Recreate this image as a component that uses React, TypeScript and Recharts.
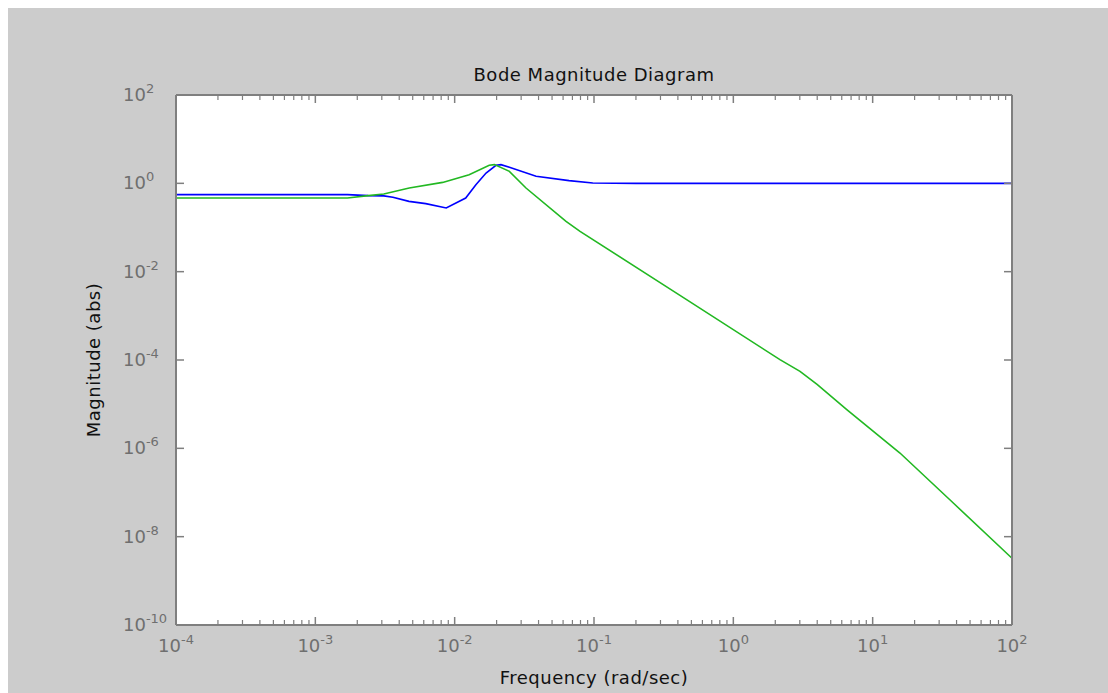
import React from 'react';
import { LineChart, Line, XAxis, YAxis, CartesianGrid } from 'recharts';

// frequency (rad/sec) and magnitude (abs)
const blueFreq = [1e-4, 1.7e-3, 2.4e-3, 3.1e-3, 3.6e-3, 4.7e-3, 6.2e-3, 8.7e-3, 0.012, 0.0142, 0.0168, 0.0198, 0.0215, 0.0247, 0.0384, 0.0662, 0.098, 0.2, 100];
const blueMag = [0.555, 0.555, 0.527, 0.521, 0.482, 0.391, 0.347, 0.276, 0.465, 0.933, 1.71, 2.56, 2.65, 2.3, 1.44, 1.15, 1.02, 1.0, 1.0];

const greenFreq = [1e-4, 1.7e-3, 2.4e-3, 3.1e-3, 4.72e-3, 8.2e-3, 0.0127, 0.0177, 0.0193, 0.0247, 0.0325, 0.063, 0.0794, 0.414, 2.16, 3.01, 3.99, 6.52, 15.7, 37.9, 100];
const greenMag = [0.465, 0.465, 0.527, 0.573, 0.783, 1.05, 1.57, 2.56, 2.65, 1.87, 0.783, 0.138, 0.0818, 2.91e-3, 1.02e-4, 5.55e-5, 2.81e-5, 7.52e-6, 7.83e-7, 5.78e-8, 3.24e-9];

const xMajorTicks = [1e-4, 1e-3, 1e-2, 1e-1, 1, 10, 100];
const yMajorTicks = [1e-10, 1e-8, 1e-6, 1e-4, 1e-2, 1, 100];

const blueData = blueFreq.map((f, i) => ({ f, m: blueMag[i] }));
const greenData = greenFreq.map((f, i) => ({ f, m: greenMag[i] }));

// log axis: majors plus 2..9 minors in every decade
const xTicks: number[] = [];
xMajorTicks.forEach((t, i) => {
  xTicks.push(t);
  if (i < xMajorTicks.length - 1) {
    for (let k = 2; k <= 9; k++) xTicks.push(k * t);
  }
});

const AXIS = '#7f7f7f';
const LABEL = '#6f6f6f';
const FONT = '"DejaVu Sans", sans-serif';

const isMajor = (v: number) => Math.abs(Math.log10(v) - Math.round(Math.log10(v))) < 1e-6;
const expOf = (v: number) => Math.round(Math.log10(v));

function BottomTick({ x, y, payload }: any) {
  const v = payload.value;
  const major = isMajor(v);
  return (
    <g>
      <line x1={x} x2={x} y1={y} y2={y - (major ? 8 : 5)} stroke={AXIS} strokeWidth={major ? 1.5 : 1.2} />
      {major && (
        <text x={x} y={y + 27} textAnchor="middle" fill={LABEL} fontSize={18} fontFamily={FONT}>
          10<tspan dy={-8} fontSize={13}>{expOf(v)}</tspan>
        </text>
      )}
    </g>
  );
}

function TopTick({ x, y, payload }: any) {
  const major = isMajor(payload.value);
  return <line x1={x} x2={x} y1={y} y2={y + (major ? 8 : 5)} stroke={AXIS} strokeWidth={major ? 1.5 : 1.2} />;
}

function LeftTick({ x, y, payload }: any) {
  return (
    <g>
      <line x1={x} x2={x + 8} y1={y} y2={y} stroke={AXIS} strokeWidth={1.5} />
      <text x={x - 53} y={y + 6} textAnchor="start" fill={LABEL} fontSize={18} fontFamily={FONT}>
        10<tspan dy={-8} fontSize={13}>{expOf(payload.value)}</tspan>
      </text>
    </g>
  );
}

function RightTick({ x, y }: any) {
  return <line x1={x} x2={x - 8} y1={y} y2={y} stroke={AXIS} strokeWidth={1.5} />;
}

const textBase: React.CSSProperties = {
  position: 'absolute',
  fontFamily: FONT,
  fontSize: 18,
  lineHeight: 1,
  letterSpacing: '0.5px',
  color: '#111',
  whiteSpace: 'nowrap',
};

export default function App() {
  return (
    <div style={{ position: 'absolute', left: 8, top: 8, width: 1100, height: 685, background: '#cccccc' }}>
      <LineChart width={1100} height={685} margin={{ top: 67, right: 76, bottom: 28, left: 108 }}>
        <CartesianGrid xAxisId="b" yAxisId="l" horizontal={false} vertical={false} fill="#ffffff" stroke="none" />
        <XAxis
          xAxisId="b"
          dataKey="f"
          type="number"
          scale="log"
          domain={[1e-4, 100]}
          allowDataOverflow
          ticks={xTicks}
          interval={0}
          tick={<BottomTick />}
          tickLine={false}
          tickSize={0}
          tickMargin={0}
          height={40}
          axisLine={{ stroke: AXIS, strokeWidth: 2 }}
        />
        <XAxis
          xAxisId="t"
          orientation="top"
          dataKey="f"
          type="number"
          scale="log"
          domain={[1e-4, 100]}
          allowDataOverflow
          ticks={xTicks}
          interval={0}
          tick={<TopTick />}
          tickLine={false}
          tickSize={0}
          tickMargin={0}
          height={20}
          axisLine={{ stroke: AXIS, strokeWidth: 2 }}
        />
        <YAxis
          yAxisId="l"
          dataKey="m"
          type="number"
          scale="log"
          domain={[1e-10, 100]}
          allowDataOverflow
          ticks={yMajorTicks}
          interval={0}
          tick={<LeftTick />}
          tickLine={false}
          tickSize={0}
          tickMargin={0}
          width={60}
          axisLine={{ stroke: AXIS, strokeWidth: 2 }}
        />
        <YAxis
          yAxisId="r"
          orientation="right"
          dataKey="m"
          type="number"
          scale="log"
          domain={[1e-10, 100]}
          allowDataOverflow
          ticks={yMajorTicks}
          interval={0}
          tick={<RightTick />}
          tickLine={false}
          tickSize={0}
          tickMargin={0}
          width={20}
          axisLine={{ stroke: AXIS, strokeWidth: 2 }}
        />
        <Line xAxisId="b" yAxisId="l" data={blueData} dataKey="m" type="linear" stroke="#0000ff" strokeWidth={1.6} dot={false} activeDot={false} isAnimationActive={false} />
        <Line xAxisId="b" yAxisId="l" data={greenData} dataKey="m" type="linear" stroke="#22b822" strokeWidth={1.6} dot={false} activeDot={false} isAnimationActive={false} />
      </LineChart>
      <div style={{ ...textBase, left: 586, top: 67, transform: 'translate(-50%, -50%)' }}>Bode Magnitude Diagram</div>
      <div style={{ ...textBase, left: 586, top: 670, transform: 'translate(-50%, -50%)' }}>Frequency (rad/sec)</div>
      <div style={{ ...textBase, left: 86, top: 352, transform: 'translate(-50%, -50%) rotate(-90deg)' }}>Magnitude (abs)</div>
    </div>
  );
}
